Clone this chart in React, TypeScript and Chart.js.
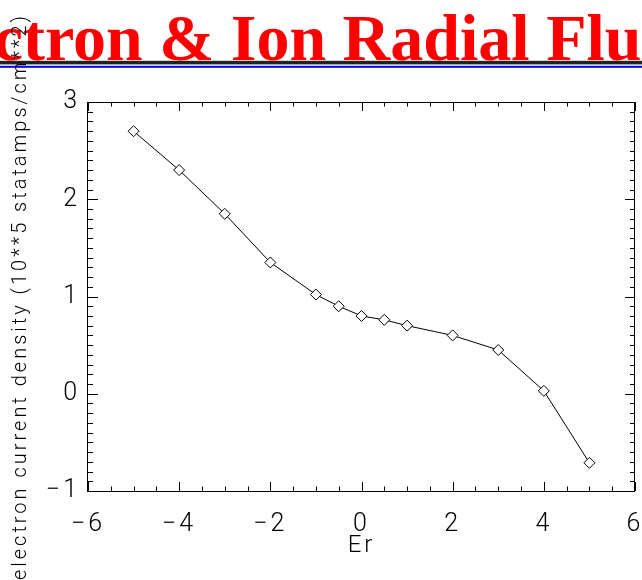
import React, { useEffect, useRef } from "react";
import { Chart, registerables } from "chart.js";

Chart.register(...registerables);

const erValues = [-5, -4, -3, -2, -1, -0.5, 0, 0.5, 1, 2, 3, 4, 5];
const currentDensity = [2.7, 2.3, 1.85, 1.35, 1.02, 0.9, 0.8, 0.76, 0.7, 0.6, 0.45, 0.03, -0.71];
const xTickValues = [-6, -4, -2, 0, 2, 4, 6];
const yTickValues = [-1, 0, 1, 2, 3];
const xMinorStep = 0.5;
const yMinorStep = 0.1;
const titleText = "Electron & Ion Radial Flux";
const xTitleText = "Er";
const yTitleText = "electron current density (10**5 statamps/cm**2)";

const W = 642;
const H = 580;
const LABEL_FONT = "Roboto, 'DejaVu Sans', sans-serif";

const fmt = (v: number) => (v < 0 ? "\u2212" + Math.abs(v) : String(v));

const headerPlugin = {
  id: "header",
  beforeDraw(chart: any) {
    const ctx = chart.ctx as CanvasRenderingContext2D;
    ctx.save();
    (ctx as any).letterSpacing = "0px";
    ctx.fillStyle = "#ff0000";
    ctx.font = "bold 66px 'Liberation Serif', 'Times New Roman', serif";
    ctx.textAlign = "left";
    ctx.textBaseline = "alphabetic";
    ctx.fillText(titleText, -98, 59.5);
    ctx.fillStyle = "#222222";
    ctx.fillRect(0, 60.8, W, 3.6);
    ctx.fillStyle = "#0000ff";
    ctx.fillRect(0, 65.8, W, 2);
    ctx.restore();
    (ctx as any).letterSpacing = "3px";
  },
};

const framePlugin = {
  id: "frameTicks",
  beforeDatasetsDraw(chart: any) {
    const ctx = chart.ctx as CanvasRenderingContext2D;
    const { left, right, top, bottom } = chart.chartArea;
    const xs = chart.scales.x;
    const ys = chart.scales.y;
    ctx.save();
    ctx.strokeStyle = "#000";
    ctx.lineWidth = 1;
    ctx.strokeRect(left - 0.5, top + 0.5, right - left, bottom - top);
    ctx.beginPath();
    const nx = Math.round((xs.max - xs.min) / xMinorStep);
    for (let i = 0; i <= nx; i++) {
      const v = xs.min + i * xMinorStep;
      const major = xTickValues.some((t) => Math.abs(t - v) < 1e-6);
      const len = major ? 9 : 4.5;
      const px = Math.round(xs.getPixelForValue(v)) + 0.5;
      ctx.moveTo(px, bottom);
      ctx.lineTo(px, bottom - len);
      ctx.moveTo(px, top);
      ctx.lineTo(px, top + len);
    }
    const ny = Math.round((ys.max - ys.min) / yMinorStep);
    for (let i = 0; i <= ny; i++) {
      const v = ys.min + i * yMinorStep;
      const major = yTickValues.some((t) => Math.abs(t - v) < 1e-6);
      const len = major ? 10 : 5;
      const py = Math.round(ys.getPixelForValue(v)) + 0.5;
      ctx.moveTo(left, py);
      ctx.lineTo(left + len, py);
      ctx.moveTo(right, py);
      ctx.lineTo(right - len, py);
    }
    ctx.stroke();
    ctx.restore();
  },
};

export default function App() {
  const ref = useRef<HTMLCanvasElement | null>(null);

  useEffect(() => {
    const canvas = ref.current;
    if (!canvas) return;
    const points = erValues.map((x, i) => ({ x, y: currentDensity[i] }));
    const chart = new Chart(canvas, {
      type: "line",
      data: {
        datasets: [
          {
            data: points,
            borderColor: "#000",
            borderWidth: 1,
            tension: 0,
            pointStyle: "rectRot",
            pointRadius: 5.5,
            pointBorderWidth: 1,
            pointBackgroundColor: "#fff",
            pointBorderColor: "#000",
          },
        ],
      },
      options: {
        animation: false,
        responsive: false,
        devicePixelRatio: 1,
        layout: { padding: { top: 102, right: 7, left: 0, bottom: 0 } },
        plugins: { legend: { display: false }, tooltip: { enabled: false }, title: { display: false } },
        scales: {
          x: {
            type: "linear",
            min: -6,
            max: 6,
            afterBuildTicks: (s: any) => {
              s.ticks = xTickValues.map((v) => ({ value: v }));
            },
            afterFit: (s: any) => {
              s.height = 89;
              s.paddingLeft = 0;
              s.paddingRight = 0;
            },
            grid: { display: false, drawTicks: false },
            border: { display: false },
            ticks: {
              callback: (v: any) => fmt(Number(v)),
              color: "#000",
              padding: 19,
              maxRotation: 0,
              autoSkip: false,
              font: { family: LABEL_FONT, size: 25, weight: "300" as any },
            },
            title: {
              display: true,
              text: xTitleText,
              color: "#000",
              padding: { top: 0, bottom: 20 },
              font: { family: LABEL_FONT, size: 24, weight: "300" as any },
            },
          },
          y: {
            type: "linear",
            min: -1,
            max: 3,
            afterBuildTicks: (s: any) => {
              s.ticks = yTickValues.map((v) => ({ value: v }));
            },
            afterFit: (s: any) => {
              s.width = 88;
              s.paddingTop = 0;
              s.paddingBottom = 0;
            },
            grid: { display: false, drawTicks: false },
            border: { display: false },
            ticks: {
              callback: (v: any) => fmt(Number(v)),
              color: "#000",
              padding: 8,
              autoSkip: false,
              font: { family: LABEL_FONT, size: 25, weight: "300" as any },
            },
            title: {
              display: true,
              text: yTitleText,
              color: "#000",
              padding: { top: 9, bottom: 0 },
              font: { family: LABEL_FONT, size: 20, weight: "300" as any },
            },
          },
        },
      },
      plugins: [headerPlugin, framePlugin],
    });
    return () => chart.destroy();
  }, []);

  return (
    <div style={{ position: "fixed", left: 0, top: 0, width: W, height: H, background: "#fff" }}>
      <canvas ref={ref} width={W} height={H} style={{ display: "block", width: W, height: H }} />
    </div>
  );
}
